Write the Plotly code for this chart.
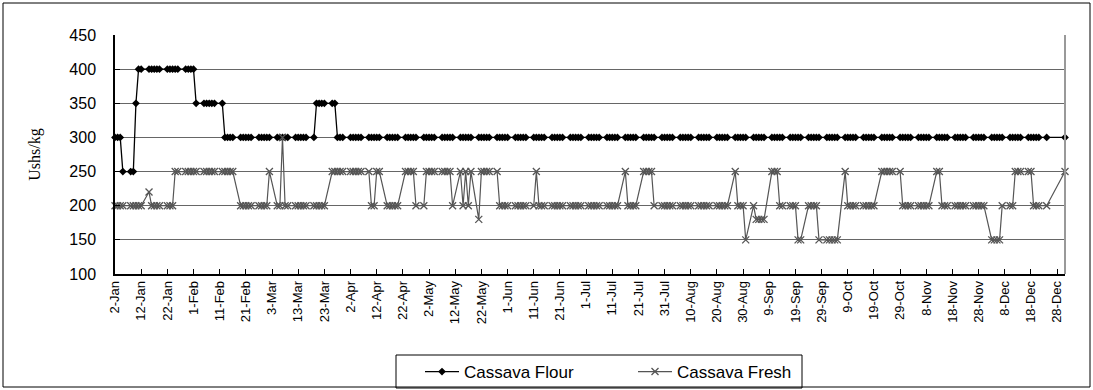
import pandas as pd
import plotly.graph_objects as go

# Trading days (weekdays of the year, market closed 25-28 Dec)
closed_days = ["2007-12-25", "2007-12-26", "2007-12-27", "2007-12-28"]
dates = [d for d in pd.bdate_range("2007-01-02", "2007-12-31") if d.strftime("%Y-%m-%d") not in closed_days]

# Cassava Flour prices (Ushs/kg), month by month
flour_jan = [300, 300, 300, 250, 250, 250, 350, 400, 400, 400, 400, 400, 400, 400, 400, 400, 400, 400, 400, 400, 400, 400]
flour_feb = [400, 350, 350, 350, 350, 350, 350, 350, 300, 300, 300, 300, 300, 300, 300, 300, 300, 300, 300, 300]
flour_mar = [300, 300, 300, 300, 300, 300, 300, 300, 300, 300, 300, 300, 300, 350, 350, 350, 350, 350, 350, 300, 300, 300]
flour_apr = [300, 300, 300, 300, 300, 300, 300, 300, 300, 300, 300, 300, 300, 300, 300, 300, 300, 300, 300, 300, 300]
flour_may = [300, 300, 300, 300, 300, 300, 300, 300, 300, 300, 300, 300, 300, 300, 300, 300, 300, 300, 300, 300, 300, 300, 300]
flour_jun = [300, 300, 300, 300, 300, 300, 300, 300, 300, 300, 300, 300, 300, 300, 300, 300, 300, 300, 300, 300, 300]
flour_jul = [300, 300, 300, 300, 300, 300, 300, 300, 300, 300, 300, 300, 300, 300, 300, 300, 300, 300, 300, 300, 300, 300]
flour_aug = [300, 300, 300, 300, 300, 300, 300, 300, 300, 300, 300, 300, 300, 300, 300, 300, 300, 300, 300, 300, 300, 300, 300]
flour_sep = [300, 300, 300, 300, 300, 300, 300, 300, 300, 300, 300, 300, 300, 300, 300, 300, 300, 300, 300, 300]
flour_oct = [300, 300, 300, 300, 300, 300, 300, 300, 300, 300, 300, 300, 300, 300, 300, 300, 300, 300, 300, 300, 300, 300, 300]
flour_nov = [300, 300, 300, 300, 300, 300, 300, 300, 300, 300, 300, 300, 300, 300, 300, 300, 300, 300, 300, 300, 300, 300]
flour_dec = [300, 300, 300, 300, 300, 300, 300, 300, 300, 300, 300, 300, 300, 300, 300, 300, 300]

# Cassava Fresh prices (Ushs/kg), month by month
fresh_jan = [200, 200, 200, 200, 200, 200, 200, 200, 200, 220, 200, 200, 200, 200, 200, 200, 200, 250, 250, 250, 250, 250]
fresh_feb = [250, 250, 250, 250, 250, 250, 250, 250, 250, 250, 250, 250, 200, 200, 200, 200, 200, 200, 200, 200]
fresh_mar = [200, 250, 200, 200, 300, 200, 200, 200, 200, 200, 200, 200, 200, 200, 200, 200, 200, 250, 250, 250, 250, 250]
fresh_apr = [250, 250, 250, 250, 250, 250, 200, 200, 250, 250, 200, 200, 200, 200, 200, 250, 250, 250, 250, 200, 200]
fresh_may = [250, 250, 250, 250, 250, 250, 250, 250, 200, 250, 200, 250, 200, 250, 180, 250, 250, 250, 250, 250, 200, 200, 200]
fresh_jun = [200, 200, 200, 200, 200, 200, 200, 250, 200, 200, 200, 200, 200, 200, 200, 200, 200, 200, 200, 200, 200]
fresh_jul = [200, 200, 200, 200, 200, 200, 200, 200, 200, 200, 250, 200, 200, 200, 200, 250, 250, 250, 250, 200, 200, 200]
fresh_aug = [200, 200, 200, 200, 200, 200, 200, 200, 200, 200, 200, 200, 200, 200, 200, 200, 200, 200, 250, 200, 200, 200, 150]
fresh_sep = [200, 180, 180, 180, 180, 250, 250, 250, 200, 200, 200, 200, 200, 150, 150, 200, 200, 200, 200, 150]
fresh_oct = [150, 150, 150, 150, 150, 250, 200, 200, 200, 200, 200, 200, 200, 200, 200, 250, 250, 250, 250, 250, 250, 200, 200]
fresh_nov = [200, 200, 200, 200, 200, 200, 200, 250, 250, 200, 200, 200, 200, 200, 200, 200, 200, 200, 200, 200, 200, 200]
fresh_dec = [150, 150, 150, 150, 200, 200, 200, 250, 250, 250, 250, 250, 200, 200, 200, 200, 250]

flour = (flour_jan + flour_feb + flour_mar + flour_apr + flour_may + flour_jun +
         flour_jul + flour_aug + flour_sep + flour_oct + flour_nov + flour_dec)
fresh = (fresh_jan + fresh_feb + fresh_mar + fresh_apr + fresh_may + fresh_jun +
         fresh_jul + fresh_aug + fresh_sep + fresh_oct + fresh_nov + fresh_dec)

n = min(len(dates), len(flour), len(fresh))
dates, flour, fresh = dates[:n], flour[:n], fresh[:n]

y_ticks = [100, 150, 200, 250, 300, 350, 400, 450]

W, H = 1093, 390
L, R, T, B = 115, 1065, 35, 274

fig = go.Figure()
fig.add_trace(go.Scatter(
    x=dates, y=flour, name="Cassava Flour", mode="lines+markers",
    line=dict(color="#000000", width=1.3),
    marker=dict(symbol="diamond", size=6, color="#000000"),
    cliponaxis=False,
))
fig.add_trace(go.Scatter(
    x=dates, y=fresh, name="Cassava Fresh", mode="lines+markers",
    line=dict(color="#555555", width=1.2),
    marker=dict(symbol="x-thin-open", size=7, color="#555555", line=dict(width=1.3, color="#555555")),
    cliponaxis=False,
))

def px_x(p):
    return (p - L) / (R - L)

def px_y(p):
    return (B - p) / (B - T)

fig.update_layout(
    width=W, height=H,
    margin=dict(l=L, r=W - R, t=T, b=H - B, autoexpand=False),
    paper_bgcolor="white", plot_bgcolor="white",
    font=dict(family="Liberation Sans, Arial, sans-serif", color="#000000"),
    showlegend=True,
    legend=dict(
        orientation="h", x=px_x(420), xanchor="left", y=px_y(354), yanchor="top",
        borderwidth=0, bgcolor="rgba(0,0,0,0)",
        font=dict(size=17, family="Liberation Sans, Arial, sans-serif"),
        entrywidth=164, entrywidthmode="pixels", itemwidth=34,
    ),
    shapes=[
        dict(type="rect", xref="paper", yref="paper",
             x0=px_x(3), x1=px_x(1090), y0=px_y(387), y1=px_y(3),
             line=dict(color="#000000", width=1), fillcolor="rgba(0,0,0,0)", layer="below"),
        dict(type="rect", xref="paper", yref="paper",
             x0=px_x(396), x1=px_x(802), y0=px_y(388), y1=px_y(355),
             line=dict(color="#000000", width=1), fillcolor="rgba(0,0,0,0)", layer="below"),
        dict(type="line", xref="paper", yref="paper", x0=1, x1=1, y0=0, y1=1,
             line=dict(color="#999999", width=2)),
    ],
)

fig.update_xaxes(
    type="date", range=["2007-01-02", "2007-12-31"],
    tick0="2007-01-02", dtick=10 * 86400000, tickformat="%-d-%b",
    tickangle=-90, tickfont=dict(size=13),
    ticks="inside", ticklen=5, tickcolor="#000000",
    showline=True, linecolor="#000000", linewidth=1.5,
    showgrid=False, zeroline=False,
)
fig.update_yaxes(
    range=[100, 450], tickvals=y_ticks, ticktext=[str(v) for v in y_ticks],
    tickfont=dict(size=16), ticks="inside", ticklen=5, tickcolor="#000000",
    ticklabelstandoff=14,
    showline=True, linecolor="#000000", linewidth=1.5,
    showgrid=True, gridcolor="#666666", gridwidth=1, zeroline=False,
    title=dict(text="Ushs/kg", font=dict(size=16, family="Liberation Serif, Times New Roman, serif"), standoff=25),
)

fig.write_html("out.html")
